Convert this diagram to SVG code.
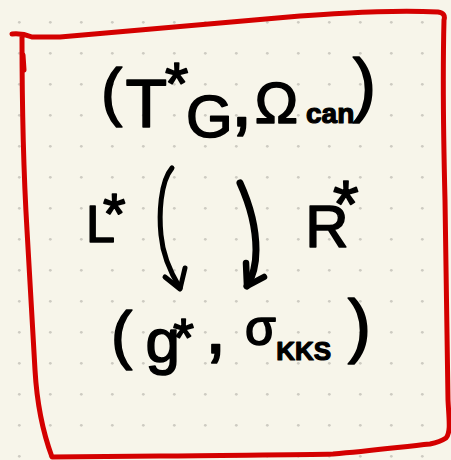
<svg xmlns="http://www.w3.org/2000/svg" width="451" height="460" viewBox="0 0 451 460">
  <defs>
    <!-- dotted notebook paper -->
    <pattern id="dots" patternUnits="userSpaceOnUse" width="31" height="31">
      <circle cx="19.3" cy="22.3" r="1.4" fill="#cdcbc2"/>
    </pattern>
    <style>
      .ink { font-family: "Liberation Sans", Arial, sans-serif; fill: #000; stroke: #000; stroke-width: 1.6; stroke-linejoin: round; }
      .sub { font-weight: bold; stroke-width: 1.2; }
      .frame { fill: none; stroke: #d40000; stroke-width: 5; stroke-linecap: round; stroke-linejoin: round; }
      .arrow { fill: none; stroke: #000; stroke-linecap: round; stroke-linejoin: round; }
    </style>
  </defs>

  <rect width="451" height="460" fill="#f7f5ea"/>
  <rect width="451" height="460" fill="url(#dots)"/>

  <!-- hand-drawn red frame -->
  <g id="frame">
    <path class="frame" d="M12,34 Q22,33 32,37 L60,37 C120,32 200,24 300,16 C360,12 400,10 438,12 Q446,13 444,20
      C443,60 443,120 445,200 C446,280 447,340 448,400 C449,420 451,432 446,438 Q440,442 430,444
      C400,447 370,451 333,454 C300,455 240,455 160,456 L52,457
      C42,430 37,405 35,370 C32,320 30,280 27,230 C24,180 22,120 22,37"/>
    <path class="frame" d="M23,55 L24,70" stroke-width="6"/>
  </g>

  <!-- top node: (T*G, Ω_can) -->
  <g id="node-cotangent">
    <text class="ink"><tspan x="101" y="113.6" font-size="64">(</tspan><tspan x="125.4" y="127" font-size="68">T</tspan><tspan x="165" y="104" font-size="60">*</tspan><tspan x="186" y="137" font-size="60">G</tspan><tspan x="230.5" y="126.3" font-size="80">,</tspan><tspan x="254.7" y="123" font-size="58">Ω</tspan><tspan class="sub" x="306" y="123" font-size="28">can</tspan><tspan x="352.8" y="108" font-size="70">)</tspan></text>
  </g>

  <!-- bottom node: (g*, σ_KKS) -->
  <g id="node-coalgebra">
    <text class="ink"><tspan x="111" y="356.6" font-size="64">(</tspan><tspan x="145.4" y="361.8" font-size="62">g</tspan><tspan x="173" y="356" font-size="54">*</tspan><tspan x="204.6" y="353.3" font-size="80">,</tspan><tspan x="245" y="345" font-size="50">σ</tspan><tspan class="sub" x="276.2" y="360" font-size="26">KKS</tspan><tspan x="347.8" y="349" font-size="70">)</tspan></text>
  </g>

  <!-- maps and their labels -->
  <g id="connectors">
    <path class="arrow" stroke-width="5" d="M172,168 C160,182 159,215 161,235 C163,258 172,275 180,288"/>
    <path class="arrow" stroke-width="5" d="M165,277 L180,289 L185,268"/>
    <path class="arrow" stroke-width="7" d="M240,183 C250,205 256,225 256,250 C256,265 252,278 247,286"/>
    <path class="arrow" stroke-width="6.5" d="M246,263 L247,286 L264,277"/>
    <text class="ink"><tspan x="86" y="242" font-size="52">L</tspan><tspan x="103" y="234" font-size="58">*</tspan></text>
    <text class="ink"><tspan x="305.2" y="247" font-size="60">R</tspan><tspan x="333" y="227" font-size="66">*</tspan></text>
  </g>
</svg>
